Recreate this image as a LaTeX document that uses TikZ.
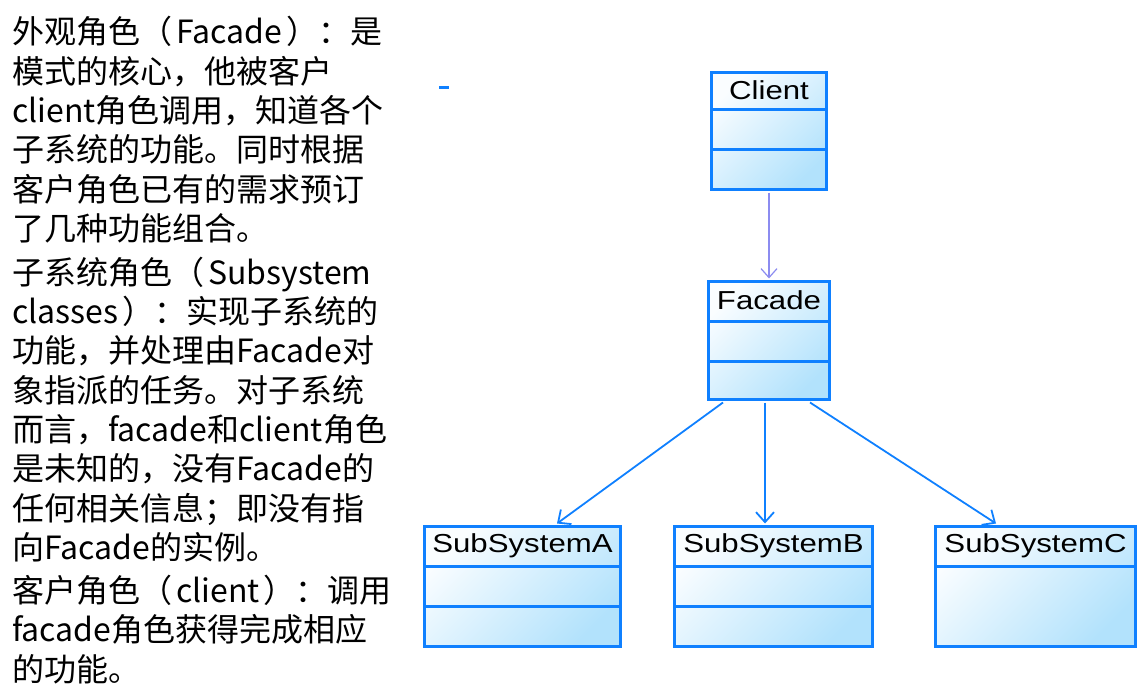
\documentclass[tikz,border=0pt]{standalone}
\usepackage{fontspec}
\setmainfont{Noto Sans CJK SC}
\newfontfamily\umlfont[FakeStretch=1.2]{Liberation Sans}
\usetikzlibrary{arrows.meta,calc}
\definecolor{boxblue}{HTML}{0F80FF}
\definecolor{fillA}{HTML}{FAFDFF}
\definecolor{fillB}{HTML}{B2E2FC}
\definecolor{usecol}{HTML}{8C8CF0}
\newcommand{\lbk}{（\kern4pt}
\newcommand{\rbk}{\kern4pt）}
\tikzset{
  umlbox/.style={draw=boxblue, line width=3pt, top color=fillA, bottom color=fillB, shading angle=45, inner sep=0pt, anchor=north west},
  cline/.style={draw=boxblue, line width=3pt},
  umlname/.style={font=\umlfont\fontsize{26}{30}\selectfont, inner sep=0pt},
  desc/.style={font=\fontsize{32}{39}\selectfont, anchor=base west, inner sep=0pt},
  usesarrow/.style={draw=usecol, line width=1.2pt, -{Straight Barb[length=9pt,width=16pt,line width=1.2pt]}},
  deparrow/.style={draw=boxblue, line width=1.8pt, -{Straight Barb[length=10pt,width=18pt,line width=1.8pt]}},
}
\begin{document}
\begin{tikzpicture}[x=1pt,y=-1pt]
\path[use as bounding box] (0,0) rectangle (1141,690);
% description text
\node[desc] (t1) at (12,44) {外观角色\lbk Facade\rbk：是};
\node[desc] (t2) at (12,83.3) {模式的核心，他被客户};
\node[desc] (t3) at (12,122.6) {client角色调用，知道各个};
\node[desc] (t4) at (12,162) {子系统的功能。同时根据};
\node[desc] (t5) at (12,201.3) {客户角色已有的需求预订};
\node[desc] (t6) at (12,240.6) {了几种功能组合。};
\node[desc] (t7) at (12,284) {子系统角色\lbk Subsystem};
\node[desc] (t8) at (12,323.3) {classes\rbk：实现子系统的};
\node[desc] (t9) at (12,362.6) {功能，并处理由Facade对};
\node[desc] (t10) at (12,402) {象指派的任务。对子系统};
\node[desc] (t11) at (12,441.3) {而言，facade和client角色};
\node[desc] (t12) at (12,480.6) {是未知的，没有Facade的};
\node[desc] (t13) at (12,520) {任何相关信息；即没有指};
\node[desc] (t14) at (12,559.3) {向Facade的实例。};
\node[desc] (t15) at (12,602.5) {客户角色\lbk client\rbk：调用};
\node[desc] (t16) at (12,641.8) {facade角色获得完成相应};
\node[desc] (t17) at (12,681) {的功能。};
% small dash
\draw[boxblue, line width=3pt] (439,88) -- (449,88);
% Client
\node[umlbox, minimum width=115pt, minimum height=117pt] (client) at (710,71) {};
\draw[cline] ($(client.north west)+(0,39)$) -- ($(client.north east)+(0,39)$);
\draw[cline] ($(client.north west)+(0,79)$) -- ($(client.north east)+(0,79)$);
\node[umlname] (clientname) at ($(client.north)+(0,19.5)$) {Client};
% Facade
\node[umlbox, minimum width=121pt, minimum height=118pt] (facade) at (707,280) {};
\draw[cline] ($(facade.north west)+(0,41)$) -- ($(facade.north east)+(0,41)$);
\draw[cline] ($(facade.north west)+(0,81)$) -- ($(facade.north east)+(0,81)$);
\node[umlname] (facadename) at ($(facade.north)+(0,20)$) {Facade};
% SubSystemA
\node[umlbox, minimum width=196pt, minimum height=120pt] (subA) at (423,525) {};
\draw[cline] ($(subA.north west)+(0,41)$) -- ($(subA.north east)+(0,41)$);
\draw[cline] ($(subA.north west)+(0,81)$) -- ($(subA.north east)+(0,81)$);
\node[umlname] (subAname) at ($(subA.north)+(0,21)$) {SubSystemA};
% SubSystemB
\node[umlbox, minimum width=198pt, minimum height=120pt] (subB) at (673,525) {};
\draw[cline] ($(subB.north west)+(0,41)$) -- ($(subB.north east)+(0,41)$);
\draw[cline] ($(subB.north west)+(0,81)$) -- ($(subB.north east)+(0,81)$);
\node[umlname] (subBname) at ($(subB.north)+(0,21)$) {SubSystemB};
% SubSystemC
\node[umlbox, minimum width=200pt, minimum height=120pt] (subC) at (934,525) {};
\draw[cline] ($(subC.north west)+(0,41)$) -- ($(subC.north east)+(0,41)$);
\node[umlname] (subCname) at ($(subC.north)+(0,21)$) {SubSystemC};
% connectors
\draw[usesarrow] ($(client.south)+(0,1.5)$) -- ($(facade.north)+(0,-1.5)$);
\draw[deparrow] ($(facade.south west)+(16,1.5)$) -- ($(subA.north west)+(134,-1.5)$);
\draw[deparrow] ($(facade.south west)+(58,1.5)$) -- ($(subB.north west)+(92,-1.5)$);
\draw[deparrow] ($(facade.south west)+(103,1.5)$) -- ($(subC.north west)+(62,-1.5)$);
\end{tikzpicture}
\end{document}
